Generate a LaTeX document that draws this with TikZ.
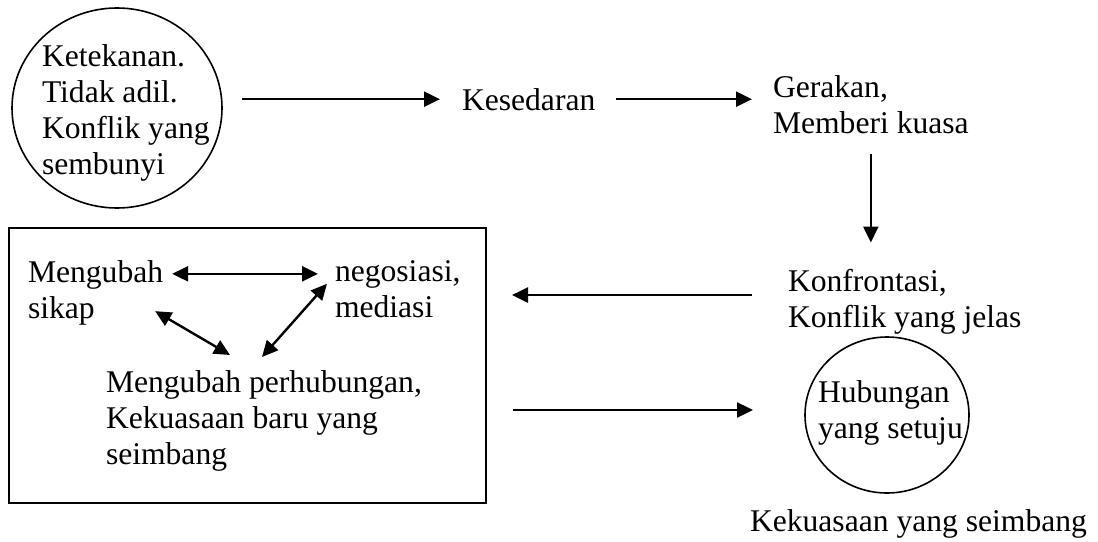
\documentclass[tikz,border=0pt]{standalone}
\usepackage{fontspec}
\setmainfont{Liberation Serif}
\usetikzlibrary{arrows.meta,shapes.geometric}
\begin{document}
\begin{tikzpicture}[x=1pt,y=-1pt,
  txt/.style={inner sep=0pt,outer sep=0pt,align=left,font=\fontsize{31.6}{36}\selectfont},
  outline/.style={draw,line width=1.6pt,inner sep=0pt,outer sep=0pt},
  arr/.style={line width=2.4pt,-{Triangle[length=16pt,width=15pt]}},
  darr/.style={line width=2.4pt,{Triangle[length=16pt,width=15pt]}-{Triangle[length=16pt,width=15pt]}}]
\useasboundingbox[fill=white] (0,0) rectangle (1098,541);
% top left ellipse
\node[outline,ellipse,minimum width=210pt,minimum height=200pt] (c1) at (117,108) {};
\node[txt,anchor=north west] (t1) at (42,44.5) {Ketekanan.\\Tidak adil.\\Konflik yang\\sembunyi};
\node[txt,anchor=base west] (kes) at (462,110) {Kesedaran};
\node[txt,anchor=north west] (ger) at (773,75.5) {Gerakan,\\Memberi kuasa};
\node[txt,anchor=north west] (kon) at (788,269.5) {Konfrontasi,\\Konflik yang jelas};
% box
\node[outline,rectangle,minimum width=477pt,minimum height=275pt] (box) at (247.5,365.5) {};
\node[txt,anchor=north west] (mg) at (28,260.5) {Mengubah\\sikap};
\node[txt,anchor=north west] (neg) at (335,260.5) {negosiasi,\\mediasi};
\node[txt,anchor=north west] (mp) at (106,370.5) {Mengubah perhubungan,\\Kekuasaan baru yang\\seimbang};
% bottom right circle
\node[outline,ellipse,minimum width=164pt,minimum height=156pt] (c2) at (887,415) {};
\node[txt,anchor=north west] (hub) at (818,380.5) {Hubungan\\yang setuju};
\node[txt,anchor=base west] (kys) at (750,531) {Kekuasaan yang seimbang};
% connectors
\draw[arr,shorten <=20pt,shorten >=22pt] (c1.east |- kes.west) -- (kes.west);
\draw[arr,shorten <=21pt,shorten >=21pt] (kes.east) -- (kes.east -| ger.west);
\draw[arr,shorten <=20pt,shorten >=27pt] (ger.south) -- (ger.south |- kon.north);
\draw[arr,shorten <=36pt,shorten >=26pt] ([yshift=7pt]kon.west) -- ([yshift=7pt]kon.west -| box.east);
\draw[arr,shorten <=27pt,shorten >=52pt] ([yshift=5pt]box.east |- c2.west) -- ([yshift=5pt]c2.west);
\draw[darr,shorten <=9pt,shorten >=17pt] ([yshift=19pt]mg.east) -- ([yshift=19pt]mg.east -| neg.west);
\draw[darr] ([xshift=-8pt,yshift=14pt]mg.south east) -- ([xshift=124pt,yshift=15.5pt]mp.north west);
\draw[darr] ([xshift=-8pt,yshift=34pt]neg.south west) -- ([xshift=156pt,yshift=13.5pt]mp.north west);
\end{tikzpicture}
\end{document}
